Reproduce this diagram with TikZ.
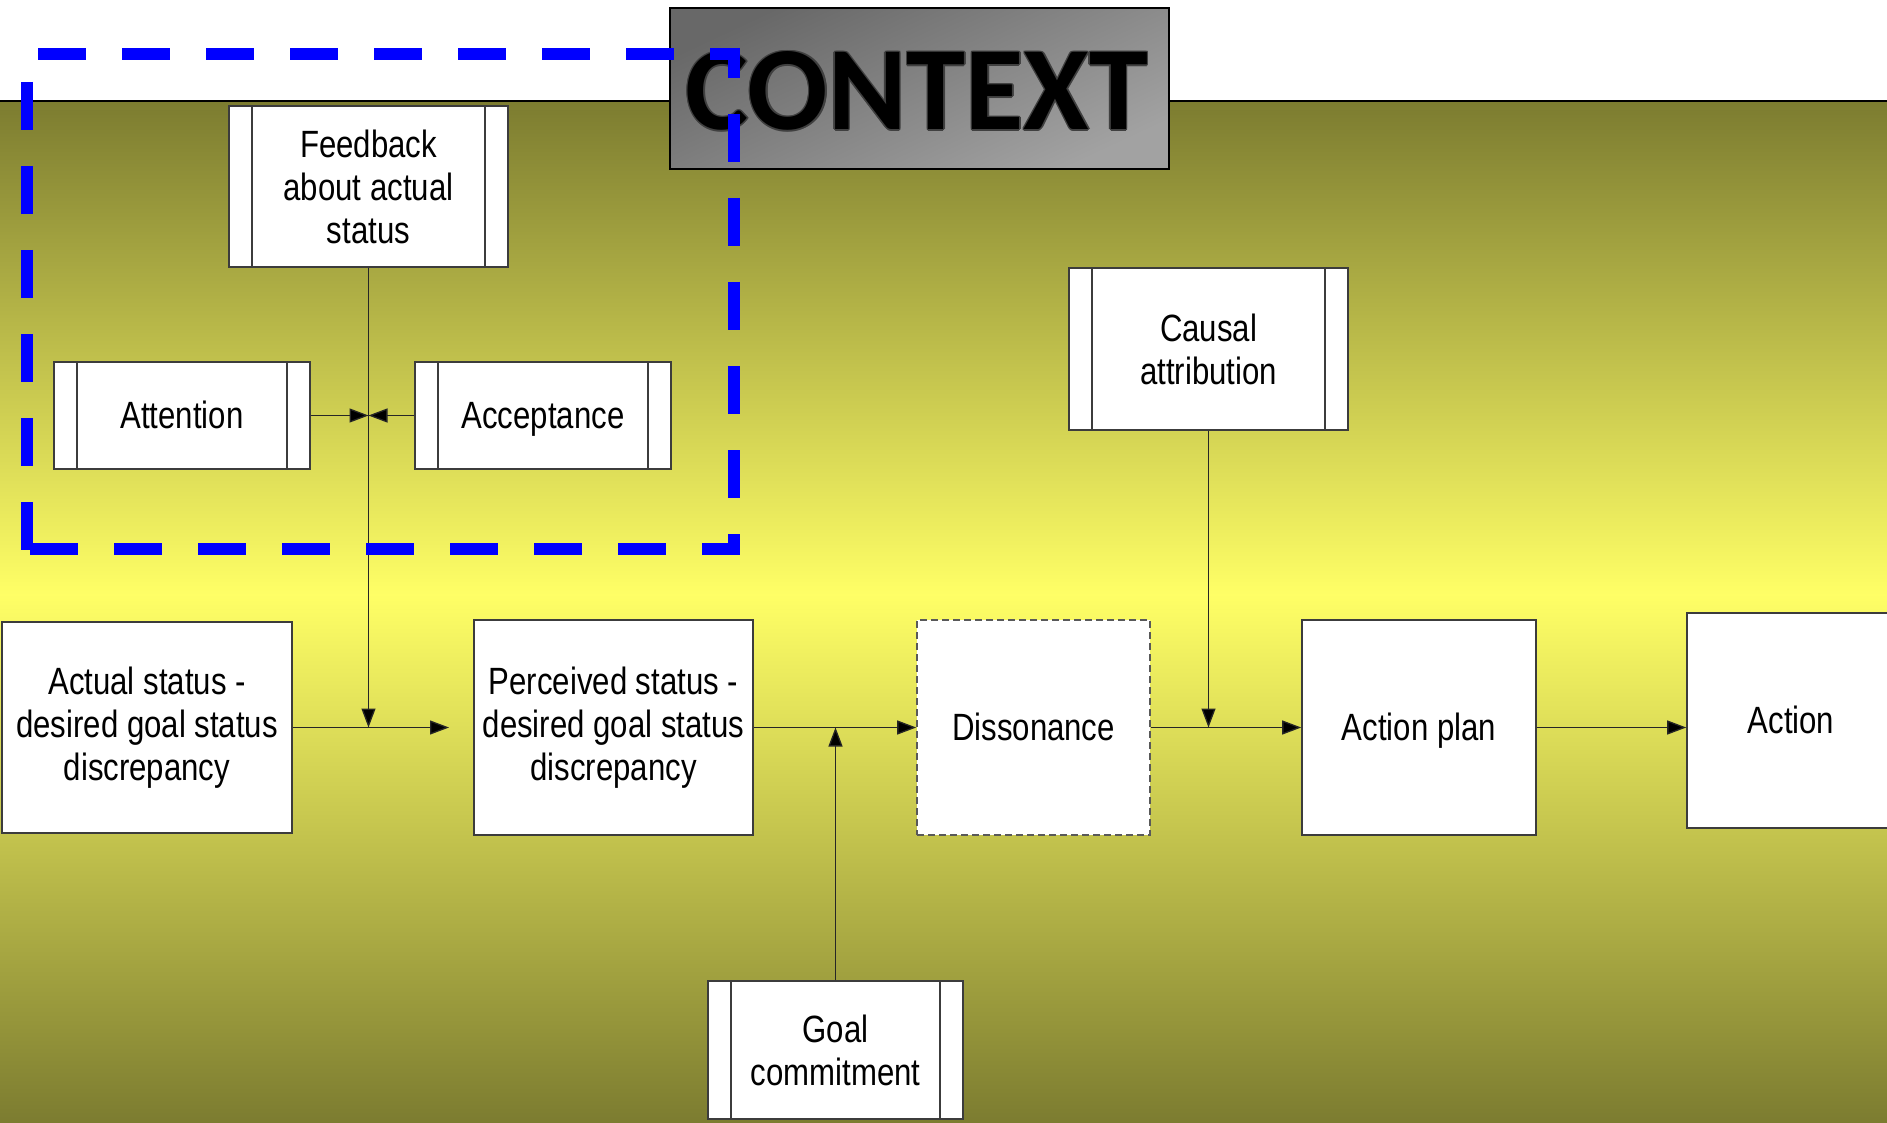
\documentclass[tikz,border=0pt]{standalone}
\usepackage{fontspec}
\setmainfont[FakeStretch=0.82]{Liberation Sans}
\newfontfamily\headfont{Carlito}
\usetikzlibrary{arrows.meta}
\definecolor{olivebg}{RGB}{124,124,48}
\definecolor{yellowbg}{RGB}{255,255,102}
\definecolor{boxline}{RGB}{60,60,60}
\definecolor{ctxdark}{RGB}{104,104,104}
\definecolor{ctxlight}{RGB}{162,162,162}
% strut giving single lines the ascent and descent of the face
\newcommand\lnstrut{\rule[-8pt]{0pt}{42.4pt}}
\tikzset{
  box/.style={draw=boxline, line width=1.6pt, fill=white, inner sep=0pt,
    align=center, font=\fontsize{38}{43}\selectfont},
  proc/.style={box, path picture={
    \draw[boxline, line width=1.2pt]
      ([xshift=23pt]path picture bounding box.north west) --
      ([xshift=23pt]path picture bounding box.south west);
    \draw[boxline, line width=1.2pt]
      ([xshift=-23pt]path picture bounding box.north east) --
      ([xshift=-23pt]path picture bounding box.south east);}},
  dashbox/.style={box, draw=black!65, dash pattern=on 7pt off 4pt},
  arr/.style={draw=black!85, line width=1.3pt,
    -{Triangle[length=19pt,width=14pt,fill=black]}},
  bluedash/.style={draw=blue, line width=12pt, dash pattern=on 48pt off 36pt}
}
\begin{document}
\begin{tikzpicture}[x=1pt,y=-1pt]
\useasboundingbox (0,0) rectangle (1887,1123);
\clip (0,0) rectangle (1887,1123);

% background: white header strip and olive/yellow band
\fill[white] (0,0) rectangle (1887,101);
\shade[top color=olivebg, bottom color=yellowbg] (0,101) rectangle (1887,595);
\shade[top color=yellowbg, bottom color=olivebg] (0,594) rectangle (1887,1123);
\draw[black, line width=2.5pt] (0,101) -- (1887,101);

% title box
\shade[top color=ctxdark, bottom color=ctxlight, shading angle=25]
  (670,8) rectangle (1169,169);
\draw[black, line width=2.5pt] (670,8) rectangle (1169,169);
\foreach \dx/\dy in {-1.6/0,1.6/0,0/-1.6,0/1.6,-1.1/-1.1,1.1/1.1,-1.1/1.1,1.1/-1.1}
  \node[text=black!75] at (917+\dx,91+\dy)
    {\headfont\bfseries\fontsize{119}{119}\selectfont CONTEXT};
\node (ctx) at (917,91) {\headfont\bfseries\fontsize{119}{119}\selectfont CONTEXT};

% boxes
\node[proc, minimum width=279, minimum height=161] (fb) at (368.5,186.5)
  {Feedback\\about actual\\status};
\node[proc, minimum width=256, minimum height=107] (att) at (182,415.5)
  {\lnstrut Attention};
\node[proc, minimum width=256, minimum height=107] (acc) at (543,415.5)
  {\lnstrut Acceptance};
\node[proc, minimum width=279, minimum height=162] (ca) at (1208.5,349)
  {Causal\\attribution};
\node[box, minimum width=290, minimum height=211] (act) at (147,727.5)
  {Actual status -\\desired goal status\\discrepancy};
\node[box, minimum width=279, minimum height=215] (per) at (613.5,727.5)
  {Perceived status -\\desired goal status\\discrepancy};
\node[dashbox, minimum width=233, minimum height=215] (dis) at (1033.5,727.5)
  {\lnstrut Dissonance};
\node[box, minimum width=234, minimum height=215] (ap) at (1419,727.5)
  {\lnstrut Action plan};
\node[box, minimum width=208, minimum height=215] (ac) at (1791,720.5)
  {\lnstrut Action};
\node[proc, minimum width=255, minimum height=138] (gc) at (835.5,1050)
  {Goal\\commitment};

% connectors
\coordinate (join) at (449,727.5);
\draw[arr] (fb.south) -- (fb.south |- act.east);
\draw[arr] (att.east) -- (att.east -| fb.south);
\draw[arr] (acc.west) -- (acc.west -| fb.south);
\draw[arr] (act.east) -- (join);
\draw[arr] (per.east) -- (dis.west);
\draw[arr] (gc.north) -- (gc.north |- dis.west);
\draw[arr] (dis.east) -- (ap.west);
\draw[arr] (ca.south) -- (ca.south |- ap.west);
\draw[arr] (ap.east) -- (ap.east -| ac.west);

% dashed context boundary, one side at a time
\draw[bluedash, dash phase=67pt] (21,54) -- (740,54);
\draw[bluedash, dash phase=18pt] (734,48) -- (734,555);
\draw[bluedash, dash phase=75pt] (21,549) -- (740,549);
\draw[bluedash, dash phase=56pt] (27,54) -- (27,555);
\end{tikzpicture}
\end{document}
